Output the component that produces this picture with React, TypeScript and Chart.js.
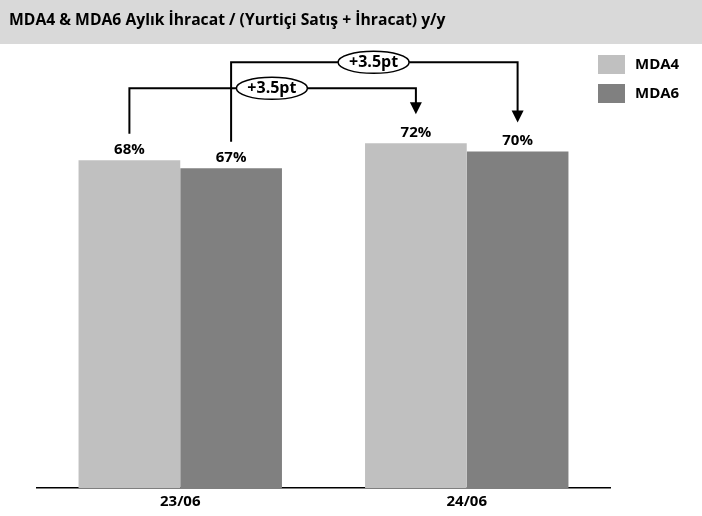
import React, { useEffect, useRef } from "react";
import { Chart, registerables } from "chart.js";

Chart.register(...registerables);

const TITLE = "MDA4 & MDA6 Aylık İhracat / (Yurtiçi Satış + İhracat) y/y";
const categories = ["23/06", "24/06"];
const seriesNames = ["MDA4", "MDA6"];
const mda4 = [68.3, 71.8];
const mda6 = [66.6, 70.1];
const valueLabels = [["68%", "72%"], ["67%", "70%"]];
const changeLabels = ["+3.5pt", "+3.5pt"];
const colors = ["#c0c0c0", "#808080"];
const FONT = "'Open Sans', sans-serif";

const overlay = {
  id: "overlay",
  beforeDraw(chart: any) {
    const ctx = chart.ctx;
    ctx.save();
    ctx.fillStyle = "#ffffff";
    ctx.fillRect(0, 0, chart.width, chart.height);
    ctx.fillStyle = "#d9d9d9";
    ctx.fillRect(0, 0, chart.width, 44);
    ctx.fillStyle = "#000";
    ctx.font = `bold 15.7px ${FONT}`;
    ctx.textBaseline = "alphabetic";
    ctx.textAlign = "left";
    ctx.fillText(TITLE, 9, 24.5);
    ctx.restore();
  },
  afterDraw(chart: any) {
    const ctx = chart.ctx;
    ctx.save();
    ctx.font = `bold 15px ${FONT}`;
    ctx.textAlign = "center";
    ctx.textBaseline = "alphabetic";
    ctx.fillStyle = "#000";
    const metas = [chart.getDatasetMeta(0), chart.getDatasetMeta(1)];
    metas.forEach((m: any, di: number) => {
      m.data.forEach((bar: any, i: number) => {
        ctx.fillText(valueLabels[di][i], bar.x, bar.y - 6.5);
      });
    });
    const topRef = Math.min(metas[0].data[1].y, metas[1].data[1].y);
    const levels = [topRef - 55, topRef - 81];
    metas.forEach((m: any, di: number) => {
      const a = m.data[0];
      const b = m.data[1];
      const y0 = a.y - 26.5;
      const yl = levels[di];
      const tip = b.y - 29;
      ctx.strokeStyle = "#000";
      ctx.lineWidth = 2;
      ctx.beginPath();
      ctx.moveTo(a.x, y0);
      ctx.lineTo(a.x, yl);
      ctx.lineTo(b.x, yl);
      ctx.lineTo(b.x, tip - 11);
      ctx.stroke();
      ctx.fillStyle = "#000";
      ctx.beginPath();
      ctx.moveTo(b.x - 6, tip - 12);
      ctx.lineTo(b.x + 6, tip - 12);
      ctx.lineTo(b.x, tip);
      ctx.closePath();
      ctx.fill();
      const cx = a.x + 142.5;
      ctx.beginPath();
      ctx.ellipse(cx, yl, 35.5, 11, 0, 0, Math.PI * 2);
      ctx.fillStyle = "#fff";
      ctx.fill();
      ctx.lineWidth = 1.5;
      ctx.stroke();
      ctx.fillStyle = "#000";
      ctx.font = `bold 16px ${FONT}`;
      ctx.textBaseline = "middle";
      ctx.fillText(changeLabels[di], cx, yl);
      ctx.textBaseline = "alphabetic";
    });
    ctx.textAlign = "left";
    ctx.textBaseline = "middle";
    ctx.font = `bold 15px ${FONT}`;
    seriesNames.forEach((name, i) => {
      const y = 55 + i * 29;
      ctx.fillStyle = colors[i];
      ctx.fillRect(598, y, 27, 19);
      ctx.fillStyle = "#000";
      ctx.fillText(name, 635, y + 10);
    });
    ctx.restore();
  },
};

export default function App() {
  const ref = useRef<HTMLCanvasElement>(null);
  useEffect(() => {
    document.body.style.margin = "0";
    const chart = new Chart(ref.current!, {
      type: "bar",
      data: {
        labels: categories,
        datasets: [
          { label: seriesNames[0], data: mda4, backgroundColor: colors[0] },
          { label: seriesNames[1], data: mda6, backgroundColor: colors[1] },
        ],
      },
      options: {
        responsive: false,
        animation: false,
        layout: { padding: { left: 37, right: 92, top: 56, bottom: 0 } },
        plugins: { legend: { display: false }, tooltip: { enabled: false }, title: { display: false } },
        datasets: { bar: { categoryPercentage: 0.71, barPercentage: 1 } },
        scales: {
          x: {
            grid: { display: false, drawTicks: false },
            border: { display: true, color: "#000", width: 1.5 },
            ticks: { color: "#000", padding: 5, font: { family: FONT, size: 15, weight: "bold" } },
          },
          y: { display: false, min: 0, max: 90 },
        },
      },
      plugins: [overlay],
    });
    return () => chart.destroy();
  }, []);
  return (
    <div style={{ position: "fixed", left: 0, top: 0, width: 702, height: 516, background: "#fff" }}>
      <canvas ref={ref} width={702} height={516} />
    </div>
  );
}
